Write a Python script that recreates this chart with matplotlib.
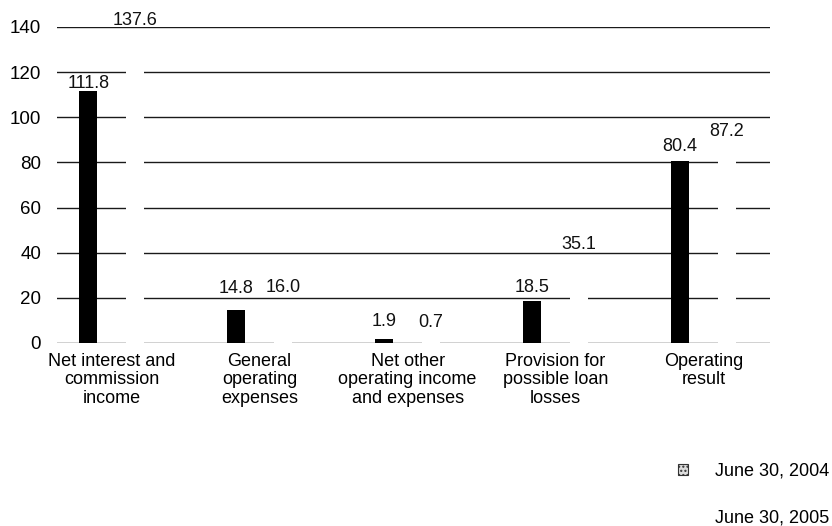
import numpy as np
import matplotlib
matplotlib.use("Agg")
import matplotlib.pyplot as plt
from matplotlib.patches import Patch

plt.rcParams['font.family'] = ['Liberation Sans', 'DejaVu Sans']

categories = [
    "Net interest and\ncommission\nincome",
    "General\noperating\nexpenses",
    "Net other\noperating income\nand expenses",
    "Provision for\npossible loan\nlosses",
    "Operating\nresult",
]
values_2004 = [111.8, 14.8, 1.9, 18.5, 80.4]
values_2005 = [137.6, 16.0, 0.7, 35.1, 87.2]
series_labels = ["June 30, 2004", "June 30, 2005"]
yticks = [0, 20, 40, 60, 80, 100, 120, 140]

# gap (points) between each bar top and its value label
label_gap_2004 = [-0.8, 9.2, 6.2, 3.8, 4.8]
label_gap_2005 = [2.8, 7.8, 7.2, 7.8, 4.3]

fig = plt.figure(figsize=(8.32, 5.26), dpi=100)
ax = fig.add_axes([0.0685, 0.348, 0.857, 0.6007])

x = np.arange(len(categories))
width = 0.125
off = 0.159

ax.bar(x - off, values_2004, width, color="black", zorder=3)
ax.bar(x + off, values_2005, width, color="white", zorder=3)

for xs, vals, gaps in ((x - off, values_2004, label_gap_2004),
                       (x + off, values_2005, label_gap_2005)):
    for xi, v, g in zip(xs, vals, gaps):
        ax.annotate(f"{v:.1f}", (xi, v), xytext=(0, g), textcoords="offset points",
                    ha="center", va="bottom", fontsize=13, color="#111111", zorder=5)

ax.set_xlim(-0.37, 4.45)
ax.set_ylim(0, 140)
ax.set_yticks(yticks)
ax.set_xticks(x)
ax.set_xticklabels(categories, fontsize=13, linespacing=1.12)
ax.tick_params(axis="y", length=0, pad=11.5, labelsize=13.5)
ax.tick_params(axis="x", length=0, pad=7)
for s in ax.spines.values():
    s.set_visible(False)
ax.yaxis.grid(True, color="#1a1a1a", linewidth=1.0)
ax.set_axisbelow(True)

handles = [Patch(facecolor="#dddddd", edgecolor="#333333", linewidth=0.8, hatch="...."),
           Patch(facecolor="white", edgecolor="white")]
fig.legend(handles, series_labels, loc="lower right", bbox_to_anchor=(1.016, -0.032),
           frameon=False, fontsize=13, handlelength=0.55, handleheight=0.55,
           handletextpad=1.5, labelspacing=1.65)

fig.savefig("out.png", dpi=100)
